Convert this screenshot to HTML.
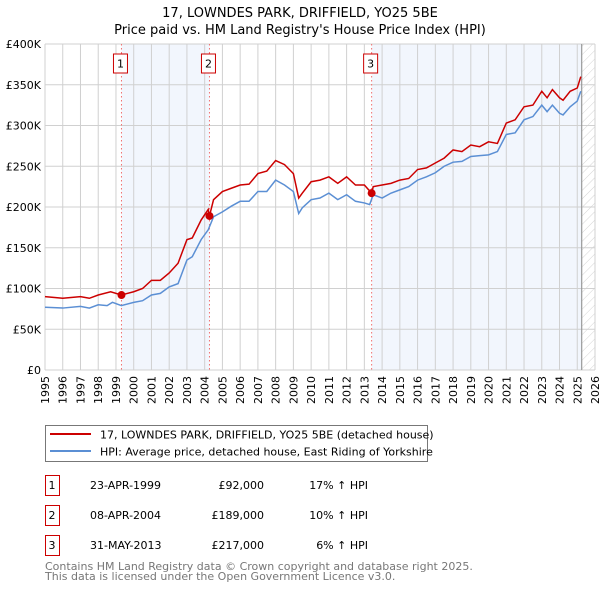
<!DOCTYPE html>
<html><head><meta charset="utf-8">
<style>
body{margin:0;background:#fff;font-family:"Liberation Sans","DejaVu Sans",sans-serif;}
svg text{font-family:"DejaVu Sans","Liberation Sans",sans-serif;}
</style></head>
<body>
<svg id="chart" width="600" height="590" xmlns="http://www.w3.org/2000/svg">
<defs>
<pattern id="hatch" width="6" height="6" patternUnits="userSpaceOnUse" patternTransform="rotate(45)">
<line x1="0" y1="0" x2="0" y2="6" stroke="#d4d4d4" stroke-width="1"/></pattern>
</defs>
<text x="300" y="17" font-size="13" text-anchor="middle">17, LOWNDES PARK, DRIFFIELD, YO25 5BE</text>
<text x="300" y="34" font-size="13" text-anchor="middle">Price paid vs. HM Land Registry's House Price Index (HPI)</text>
<g id="plot"></g>
<rect x="45.5" y="425.5" width="382" height="36" fill="#fff" stroke="#777"/>
<line x1="50" y1="434" x2="91" y2="434" stroke="#cc0000" stroke-width="2"/>
<text x="100" y="438.5" font-size="11">17, LOWNDES PARK, DRIFFIELD, YO25 5BE (detached house)</text>
<line x1="50" y1="451" x2="91" y2="451" stroke="#5b8fd4" stroke-width="2"/>
<text x="100" y="455.5" font-size="11">HPI: Average price, detached house, East Riding of Yorkshire</text>
<g id="table" font-size="11"></g>
<text x="45" y="570" font-size="11" fill="#777">Contains HM Land Registry data © Crown copyright and database right 2025.</text>
<text x="45" y="580" font-size="11" fill="#777">This data is licensed under the Open Government Licence v3.0.</text>
</svg>
<script>
const redT=[1995,1996,1997,1997.5,1998,1998.7,1999.3,2000,2000.5,2001,2001.5,2002,2002.5,2003,2003.3,2003.8,2004.2,2004.27,2004.5,2005,2005.5,2006,2006.5,2007,2007.5,2008,2008.5,2009,2009.3,2009.5,2010,2010.5,2011,2011.5,2012,2012.5,2013,2013.41,2013.5,2014,2014.5,2015,2015.5,2016,2016.5,2017,2017.5,2018,2018.5,2019,2019.5,2020,2020.5,2021,2021.5,2022,2022.5,2023,2023.3,2023.6,2024,2024.2,2024.6,2025,2025.2];
const redV=[90,88,90,88,92,96,92,96,100,110,110,119,131,160,162,184,197,189,209,219,223,227,228,241,244,257,252,241,211,217,231,233,237,229,237,227,227,217,225,227,229,233,235,246,248,254,260,270,268,276,274,280,278,303,307,323,325,342,334,344,334,331,342,346,360];
const hpiT=[1995,1996,1997,1997.5,1998,1998.5,1998.8,1999.3,2000,2000.5,2001,2001.5,2002,2002.5,2003,2003.3,2003.8,2004.2,2004.5,2005,2005.5,2006,2006.5,2007,2007.5,2008,2008.5,2009,2009.3,2009.5,2010,2010.5,2011,2011.5,2012,2012.5,2013,2013.3,2013.5,2014,2014.5,2015,2015.5,2016,2016.5,2017,2017.5,2018,2018.5,2019,2019.5,2020,2020.5,2021,2021.5,2022,2022.5,2023,2023.3,2023.6,2024,2024.2,2024.6,2025,2025.2];
const hpiV=[77,76,78,76,80,79,83,79,83,85,92,94,102,106,135,139,160,172,188,194,201,207,207,219,219,233,227,219,192,199,209,211,217,209,215,207,205,203,215,211,217,221,225,233,237,242,250,255,256,262,263,264,268,289,291,307,311,325,317,325,315,313,323,330,342];
const saleT=[1999.31,2004.27,2013.41];
const saleV=[92,189,217];
const saleLabels=["1","2","3"];
const saleDates=["23-APR-1999","08-APR-2004","31-MAY-2013"];
const salePrices=["£92,000","£189,000","£217,000"];
const saleHpi=["17% ↑ HPI","10% ↑ HPI","6% ↑ HPI"];
const yTicks=[0,50,100,150,200,250,300,350,400];
const yTickLabels=["£0","£50K","£100K","£150K","£200K","£250K","£300K","£350K","£400K"];
const xYears=[1995,1996,1997,1998,1999,2000,2001,2002,2003,2004,2005,2006,2007,2008,2009,2010,2011,2012,2013,2014,2015,2016,2017,2018,2019,2020,2021,2022,2023,2024,2025,2026];
const dataEnd=2025.25;

const X0=45,X1=595,Y0=370,Y1=44;
const xs=t=>X0+(t-1995)/(2026-1995)*(X1-X0);
const ys=v=>Y0-v/400*(Y0-Y1);
const NS="http://www.w3.org/2000/svg";
const plot=document.getElementById('plot');
function mk(tag,attrs,parent){const e=document.createElementNS(NS,tag);for(const k in attrs)e.setAttribute(k,attrs[k]);(parent||plot).appendChild(e);return e;}

let r=mk('rect',{x:X0,y:Y1,width:X1-X0,height:Y0-Y1,fill:'#fff'});


r=mk('rect',{x:xs(saleT[0]),y:Y1,width:xs(saleT[1])-xs(saleT[0]),height:Y0-Y1,fill:'#f2f6fd'});


r=mk('rect',{x:xs(saleT[2]),y:Y1,width:xs(dataEnd)-xs(saleT[2]),height:Y0-Y1,fill:'#f2f6fd'});


r=mk('rect',{x:xs(dataEnd),y:Y1,width:X1-xs(dataEnd),height:Y0-Y1,fill:'url(#hatch)'});



xYears.forEach(y=>{const l=mk('line',{x1:xs(y),x2:xs(y),y1:Y1,y2:Y0,stroke:'#d0d0d0','stroke-width':1});


const t=mk('text',{x:0,y:0,'font-size':11,'text-anchor':'end',transform:`translate(${xs(y)+4},${Y0+6}) rotate(-90)`});
t.textContent=y;

});
yTicks.forEach((v,i)=>{const l=mk('line',{x1:X0,x2:X1,y1:ys(v),y2:ys(v),stroke:'#d0d0d0','stroke-width':1});


const t=mk('text',{x:X0-4,y:ys(v)+4,'font-size':11,'text-anchor':'end'});
t.textContent=yTickLabels[i];

});
let l=mk('line',{x1:xs(dataEnd),x2:xs(dataEnd),y1:Y1,y2:Y0,stroke:'#999','stroke-width':1.2});



saleT.forEach((t,i)=>{const d=mk('line',{x1:xs(t),x2:xs(t),y1:Y1,y2:Y0,stroke:'#f07070','stroke-width':1,'stroke-dasharray':'1.5,2.5'});


const b=mk('rect',{x:xs(t)-8,y:54,width:14,height:19,fill:'#fff',stroke:'#cc0000'});


const tx=mk('text',{x:xs(t)-1,y:67.5,'font-size':11,'text-anchor':'middle'});
tx.textContent=saleLabels[i];

});

let p=mk('polyline',{points:hpiT.map((t,i)=>xs(t)+','+ys(hpiV[i])).join(' '),fill:'none',stroke:'#5b8fd4','stroke-width':1.5});


p=mk('polyline',{points:redT.map((t,i)=>xs(t)+','+ys(redV[i])).join(' '),fill:'none',stroke:'#cc0000','stroke-width':1.5});


saleT.forEach((t,i)=>{const c=mk('circle',{cx:xs(t),cy:ys(saleV[i]),r:4,fill:'#cc0000'});

});

const tb=document.getElementById('table');
saleT.forEach((t,i)=>{const y0=475+i*30;
const b=mk('rect',{x:45.5,y:y0+0.5,width:14,height:20,fill:'#fff',stroke:'#cc0000'},tb);


const cells=[[52,saleLabels[i],'middle','table-badge-label'],[90,saleDates[i],'start','table-date'],[264,salePrices[i],'end','table-price'],[368,saleHpi[i],'end','table-hpi-diff']];
cells.forEach(c=>{const e=mk('text',{x:c[0],y:y0+14,'text-anchor':c[2],'font-size':11},tb);e.textContent=c[1];

});});
</script>
</body></html>
